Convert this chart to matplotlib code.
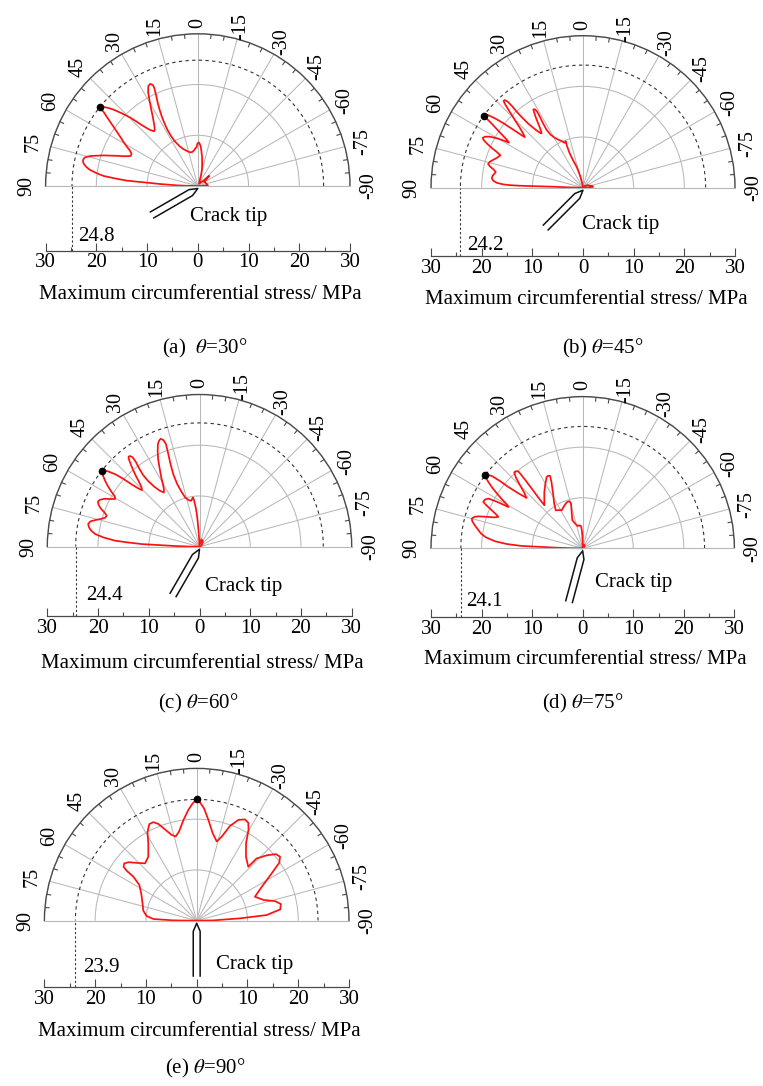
import numpy as np
import matplotlib.pyplot as plt

plt.rcParams['font.family'] = 'Liberation Serif'
plt.rcParams['mathtext.fontset'] = 'stix'

W, H = 763, 1086

# -- stress curves: angle (deg, 0 = ahead, + to the left) and sigma (MPa)
theta_a = [90, 88.8, 88.2, 87.0, 86.1, 85.7, 84.8, 83.9, 82.7, 81.5, 80.3, 79.2, 78.2, 77.3, 76.4,
           75.7, 74.4, 73.3, 72.0, 70.9, 69.5, 68.2, 66.9, 65.9, 64.1, 62.4, 61.0, 59.2, 57.6, 56.2,
           54.9, 53.8, 52.7, 51.9, 51.3, 50.3, 48.9, 47.8, 46.9, 45.8, 44.7, 43.7, 42.6, 41.5, 40.4,
           38.6, 37.3, 36.1, 34.6, 33.0, 31.4, 30.0, 28.8, 27.8, 26.9, 26.3, 25.0, 24.0, 23.9, 24.3,
           25.0, 25.8, 26.6, 27.4, 28.0, 28.4, 28.2, 27.1, 24.5, 21.3, 17.0, 12.8, 9.0, 5.8, 3.5,
           2.0, 0.4, -1.3, -2.7, -4.5, -6.1, -8.5, -10.8, -14, -16.9, -21, -30, -40, -46.7, -48.6,
           -52, -58, -65.6, -78, -86, -88.5, -90]
r_a = [0, 2.5, 4.1, 7.4, 10.7, 14.0, 16.3, 18.7, 20.2, 21.5, 22.3, 22.8, 23.1, 23.2, 23.1,
       22.9, 22.0, 20.8, 19.5, 18.3, 17.0, 15.8, 15.0, 14.5, 14.5, 15.1, 16.0, 17.1, 18.1, 19.2,
       20.3, 21.4, 22.6, 23.5, 24.8, 24.5, 23.4, 22.4, 21.4, 20.2, 19.0, 17.7, 16.3, 15.3, 14.5,
       13.8, 14.0, 14.5, 15.3, 16.3, 17.6, 18.8, 20.0, 21.0, 21.6, 22.0, 22.2, 21.8, 21.2, 20.4,
       19.2, 18.1, 16.8, 15.4, 14.0, 12.6, 11.2, 9.8, 8.6, 7.8, 7.2, 6.8, 6.8, 7.1, 7.5,
       7.6, 8.4, 8.6, 8.3, 7.7, 6.8, 5.7, 4.6, 3.4, 2.3, 0.9, 0.5, 1.0, 1.5, 3.0,
       2.2, 1.5, 1.6, 1.8, 2.0, 1.2, 0]

theta_b = [90, 88.6, 88.1, 88.2, 88.2, 88.0, 87.6, 86.8, 85.5, 84.0, 82.5, 81.0, 79.8, 78.5, 77.2,
           76.0, 74.5, 72.9, 70.5, 68.6, 67.5, 66.5, 65.3, 64.3, 63.6, 62.5, 61.3, 60.0, 58.9, 58.6,
           57.8, 56.8, 55.8, 54.9, 54.3, 54.1, 53.4, 52.6, 51.8, 51.0, 50.2, 49.4, 49.0, 47.8, 46.4,
           45.2, 44.0, 43.1, 42.5, 41.8, 41.2, 41.0, 41.1, 41.0, 40.5, 39.2, 37.8, 37.2, 36.0, 34.8,
           33.8, 32.9, 32.4, 31.6, 31.1, 31.3, 31.8, 32.2, 31.5, 29.5, 26.5, 24.0, 22.5, 21.2, 20.5,
           21.0, 21.2, 20.0, 17.5, 15.8, 13.0, 10.0, 0, -40, -60, -73, -80, -85, -88, -90]
r_b = [0, 3.0, 5.9, 9.0, 12.5, 14.5, 15.8, 17.0, 17.8, 18.1, 18.0, 17.7, 17.5, 18.0, 18.8,
       19.3, 19.1, 18.6, 17.9, 17.5, 18.4, 19.6, 20.9, 21.8, 22.1, 21.8, 21.0, 19.4, 17.6, 17.1,
       17.8, 19.1, 20.6, 22.1, 23.5, 24.2, 24.1, 23.6, 22.2, 20.3, 17.8, 15.8, 15.2, 16.0, 17.3,
       18.9, 20.8, 22.4, 23.2, 23.2, 22.6, 21.3, 20.0, 18.5, 16.6, 14.7, 13.6, 13.5, 14.3, 15.6,
       16.8, 17.8, 18.3, 18.2, 17.6, 16.4, 15.0, 13.6, 12.3, 11.3, 10.5, 10.0, 9.6, 9.6, 9.8,
       8.8, 7.3, 5.8, 4.5, 3.6, 2.2, 1.0, 0, 0.4, 1.0, 1.4, 1.9, 2.0, 1.2, 0]

theta_c = [90, 89.2, 88.4, 87.4, 86.5, 85.9, 84.5, 83.1, 81.5, 80.1, 78.5, 77.0, 75.8, 74.3, 72.8,
           71.5, 70.2, 68.8, 67.3, 66.0, 64.8, 63.3, 61.8, 60.5, 59.3, 58.0, 56.6, 55.2, 53.8, 52.8,
           52.1, 51.3, 50.4, 49.3, 48.3, 47.5, 46.5, 45.5, 44.2, 43.0, 41.9, 40.7, 39.6, 38.8, 38.2,
           37.4, 36.8, 36.9, 37.6, 38.2, 38.0, 37.0, 35.3, 33.3, 31.8, 30.3, 28.9, 27.2, 25.3, 23.6,
           22.1, 20.8, 19.8, 18.7, 18.1, 18.6, 19.3, 19.9, 19.6, 18.3, 16.2, 13.0, 10.3, 8.5, 7.6,
           6.8, 6.4, 5.4, 4.7, 4.0, 3.6, 2.5, 0.5, -15, -30, -60, -90]
r_c = [0, 2.0, 4.8, 11.4, 14.5, 16.7, 19.0, 20.7, 21.6, 22.1, 22.4, 22.1, 21.3, 20.2, 19.4,
       19.3, 19.9, 20.9, 21.6, 21.9, 21.7, 21.0, 19.9, 19.1, 19.4, 20.5, 21.6, 22.6, 23.5, 24.1,
       24.4, 24.1, 23.2, 21.9, 20.1, 18.3, 16.8, 15.9, 16.4, 17.5, 18.8, 20.2, 21.4, 22.3, 22.6,
       22.5, 22.0, 20.9, 19.5, 18.0, 16.4, 14.8, 13.5, 12.8, 13.3, 14.3, 15.6, 17.1, 19.1, 20.6,
       21.8, 22.4, 22.6, 22.2, 21.3, 19.3, 17.3, 15.1, 13.1, 11.5, 10.1, 9.4, 9.2, 9.6, 9.8,
       9.3, 8.8, 7.6, 6.5, 4.8, 3.2, 1.5, 0.3, 1.5, 1.3, 0.5, 0]

theta_d = [90, 89.3, 88.6, 88.0, 87.8, 86.8, 85.4, 83.5, 81.8, 80.2, 78.0, 76.2, 75.0, 73.8, 73.0,
           72.0, 70.8, 69.6, 68.6, 67.3, 66.0, 65.0, 63.5, 62.2, 61.5, 60.9, 60.0, 58.9, 57.8, 56.3,
           54.9, 54.0, 53.3, 52.4, 51.5, 50.9, 50.5, 49.5, 48.1, 46.5, 44.8, 43.4, 42.1, 41.0, 39.9,
           40.0, 40.5, 41.2, 41.7, 38.5, 34.2, 30.2, 26.8, 25.5, 24.3, 25.2, 27.0, 29.0, 32.5, 35.4,
           32.0, 28.9, 24.0, 19.5, 17.0, 15.5, 14.6, 16.5, 20.3, 16.5, 12.6, 8.0, 4.3, 2.8, 1.5,
           0.5, 0, -20, -45, -90]
r_d = [0, 2.5, 5.5, 9.0, 12.1, 15.0, 17.4, 19.3, 20.3, 20.9, 21.8, 22.5, 22.7, 22.3, 21.6,
       20.2, 18.6, 17.8, 18.4, 19.5, 20.8, 21.7, 21.6, 21.1, 19.3, 16.8, 17.3, 18.5, 19.7, 21.4,
       22.8, 23.6, 24.1, 23.8, 23.0, 21.2, 19.1, 16.8, 14.9, 15.9, 17.6, 19.2, 20.2, 20.2, 19.8,
       18.0, 15.5, 13.2, 11.4, 12.2, 13.5, 14.7, 15.8, 15.9, 15.7, 14.5, 13.2, 12.0, 10.5, 9.2,
       8.9, 8.6, 9.1, 9.6, 9.7, 9.6, 9.1, 7.8, 5.9, 5.0, 4.5, 4.6, 4.4, 3.6, 2.6,
       1.0, 0, 0.8, 0.5, 0]

theta_e = [90, 89.2, 87.8, 84.7, 79.4, 72.3, 65.0, 58.1, 55.2, 54.5, 53.6, 51.7, 49.4, 46.0, 42.0,
           37.1, 32.0, 29.0, 26.1, 23.7, 21.6, 19.1, 16.3, 14.0, 11.2, 7.5, 4.3, 2.0, 0, -1.6,
           -3.7, -6.6, -10.4, -14.2, -16.6, -19.4, -22.5, -25.5, -27.8, -29.7, -32.5, -37.6, -43.7,
           -43.9, -47.0, -50.0, -52.5, -54.9, -57.7, -62.4, -67.6, -72.8, -76.0, -78.8, -82.3,
           -85.4, -86.9, -88.9, -90]
r_e = [0, 4.6, 8.5, 9.9, 10.7, 11.2, 12.0, 13.3, 15.2, 16.9, 17.9, 18.2, 17.7, 16.4, 15.2,
       15.8, 18.0, 20.0, 21.2, 21.2, 20.5, 19.0, 17.6, 17.1, 17.9, 20.0, 21.9, 23.1, 23.9, 23.3,
       22.2, 20.0, 17.5, 16.1, 17.3, 19.8, 21.5, 22.1, 21.8, 20.6, 18.1, 15.9, 14.7,
       17.0, 18.9, 20.4, 20.7, 19.9, 17.5, 14.5, 12.4, 13.8, 15.9, 16.9, 16.6,
       13.8, 8.5, 3.3, 0]

# -- maximum of each curve (angle, value)
peak_theta = [51.3, 54.1, 52.1, 53.3, 0]
peak_r = [24.8, 24.2, 24.4, 24.1, 23.9]
incline = [30, 45, 60, 75, 90]
tags = ['(a)  ', '(b) ', '(c) ', '(d) ', '(e) ']
curves = [(theta_a, r_a), (theta_b, r_b), (theta_c, r_c), (theta_d, r_d), (theta_e, r_e)]

# -- page layout in pixels: centre, radius, bottom axis, value label, crack label, caption
layout = [
    dict(cx=197.8, cy=186.0, R=152.2, ay=250.5, val=(78, 237), crk=(190, 217), lab=295, cap=(205, 348)),
    dict(cx=583.0, cy=187.7, R=152.0, ay=256.0, val=(467, 245), crk=(582, 224), lab=300, cap=(603, 348)),
    dict(cx=199.5, cy=546.7, R=152.2, ay=616.0, val=(86, 595), crk=(205, 587), lab=663, cap=(198, 703)),
    dict(cx=582.7, cy=548.3, R=151.7, ay=617.0, val=(466, 601), crk=(595, 582), lab=660, cap=(583, 703)),
    dict(cx=196.7, cy=920.7, R=152.3, ay=987.0, val=(83, 968), crk=(216, 965), lab=1032, cap=(205, 1068)),
]

grey = '#b8b8b8'
dark = '#4a4a4a'
fs = 15


def fx(x):
    return x / W


def fy(y):
    return 1 - y / H


fig = plt.figure(figsize=(W / 100, H / 100), dpi=100)

for i, L in enumerate(layout):
    cx, cy, R, ay = L['cx'], L['cy'], L['R'], L['ay']
    th, rr = curves[i]
    rmax = peak_r[i]

    # -- half polar plot (the wedge sits in the middle of a square box)
    ax = fig.add_axes([fx(cx - R), fy(cy + 0.5 * R), 2 * R / W, 2 * R / H], projection='polar')
    ax.set_theta_zero_location('N')
    ax.set_thetamin(-90)
    ax.set_thetamax(90)
    ax.set_aspect('auto')
    ax.set_rlim(0, 30)
    ax.set_thetagrids(np.arange(-90, 91, 15), labels=[])
    ax.set_rgrids([10, 20, 30], labels=[])
    ax.grid(color=grey, lw=0.75)
    ax.tick_params(length=0)
    ax.patch.set_visible(False)
    ax.spines['polar'].set_color(dark)
    ax.spines['polar'].set_linewidth(1.0)
    for s in ['start', 'end', 'inner']:
        ax.spines[s].set_color(grey)
        ax.spines[s].set_linewidth(0.8)

    # minor ticks on the outer arc
    for a in np.arange(-85, 90, 5):
        if a % 15:
            ax.plot([np.deg2rad(a)] * 2, [29.2, 30], color=dark, lw=0.8)

    tt = np.deg2rad(np.linspace(-90, 90, 181))
    ax.plot(tt, np.full(tt.size, rmax), color='#333333', lw=0.8, ls=(0, (3, 3)))

    ax.plot(np.deg2rad(th), rr, color='#ff1010', lw=1.25, clip_on=False, solid_joinstyle='round')
    ax.plot(np.deg2rad(peak_theta[i]), rmax, 'o', color='k', ms=4.5)

    for a in range(-90, 91, 15):
        ax.text(np.deg2rad(a), 32.2 + 1.5 * abs(np.sin(np.deg2rad(a))), str(a),
                rotation=90, ha='center', va='center', fontsize=14.5, clip_on=False)

    # -- linear stress scale underneath
    h = (ay - cy) / R * 30
    bx = fig.add_axes([fx(cx - R), fy(ay), 2 * R / W, (ay - cy) / H])
    bx.set_xlim(-30, 30)
    bx.set_ylim(-h, 0)
    bx.patch.set_visible(False)
    for s in ['top', 'left', 'right']:
        bx.spines[s].set_visible(False)
    bx.spines['bottom'].set_color(dark)
    bx.spines['bottom'].set_linewidth(0.9)
    bx.set_yticks([])
    ticks = np.arange(-30, 31, 10)
    bx.set_xticks(ticks)
    bx.set_xticklabels([str(abs(v)) for v in ticks])
    bx.set_xticks(np.arange(-25, 30, 10), minor=True)
    bx.tick_params(axis='x', which='major', direction='in', length=6, width=0.8,
                   color=dark, labelsize=fs, pad=2)
    bx.tick_params(axis='x', which='minor', direction='in', length=3, width=0.8, color=dark)

    bx.plot([-rmax, -rmax], [-h, 0], color='#333333', lw=0.8, ls=(0, (2, 2)))

    # crack drawn as a thin wedge ending at the origin
    a = np.deg2rad(incline[i])
    d = np.array([-np.cos(a), -np.sin(a)])
    n = np.array([-d[1], d[0]])
    tip = np.array([0, -0.5])
    hw, taper, length = 0.68, 1.6, 10.4
    p = [tip + d * length + n * hw, tip + d * taper + n * hw, tip,
         tip + d * taper - n * hw, tip + d * length - n * hw]
    p = np.array(p)
    bx.plot(p[:, 0], p[:, 1], color='#111111', lw=1.1, clip_on=False)

    fig.text(fx(L['val'][0]), fy(L['val'][1]), '%.1f' % rmax, fontsize=fs, ha='left', va='center')
    fig.text(fx(L['crk'][0]), fy(L['crk'][1]), 'Crack tip', fontsize=fs, ha='left', va='center')
    fig.text(fx(cx + 3), fy(L['lab']), 'Maximum circumferential stress/ MPa', fontsize=fs,
             ha='center', va='center')
    fig.text(fx(L['cap'][0]), fy(L['cap'][1]), tags[i] + r'$\theta$=%d°' % incline[i], fontsize=fs,
             ha='center', va='center')

fig.savefig('out.png', dpi=100, facecolor='white')
